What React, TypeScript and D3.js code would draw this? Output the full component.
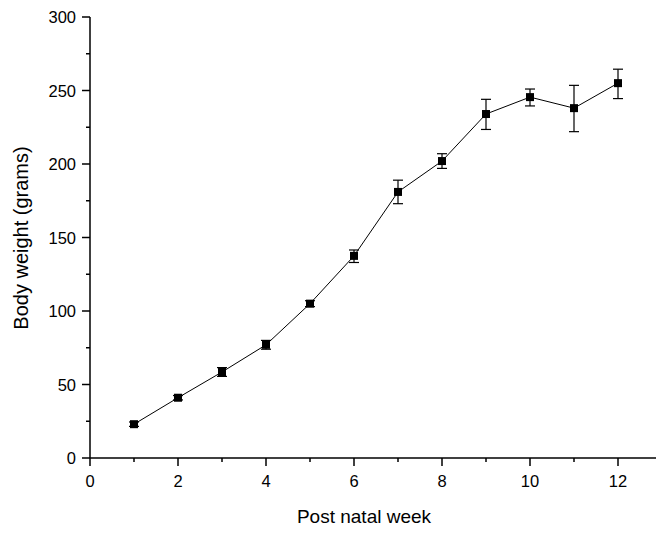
import * as d3 from "d3";

const weeks = [1, 2, 3, 4, 5, 6, 7, 8, 9, 10, 11, 12];
const weight = [23, 41, 58.5, 77, 105, 137.5, 181, 202, 234, 245.5, 238, 255];
const errLow = [21.5, 39.5, 55.5, 74, 103, 133, 173, 197, 223.5, 239.5, 222, 244.5];
const errHigh = [24.5, 42.5, 61.5, 80, 107, 141.5, 189, 207, 244, 251, 253.5, 264.5];
const xTicks = [0, 2, 4, 6, 8, 10, 12];
const xMinor = [1, 3, 5, 7, 9, 11, 13];
const yTicks = [0, 50, 100, 150, 200, 250, 300];
const yMinor = [25, 75, 125, 175, 225, 275];

const font = "Arial, 'Liberation Sans', sans-serif";

export default function App() {
  const width = 656;
  const height = 533;

  const x = d3.scaleLinear().domain([0, 13]).range([90, 662]);
  const y = d3.scaleLinear().domain([0, 300]).range([458, 17]);

  const line = d3
    .line<number>()
    .x((d, i) => x(weeks[i]))
    .y((d) => y(d));

  const box = 8;
  const cap = 5;

  return (
    <svg
      width={width}
      height={height}
      style={{ position: "absolute", left: 0, top: 0, background: "#fff" }}
    >
      {/* axes */}
      <line x1={x(0)} x2={x(13)} y1={y(0)} y2={y(0)} stroke="#000" strokeWidth={1.5} />
      <line x1={x(0)} x2={x(0)} y1={y(0)} y2={y(300)} stroke="#000" strokeWidth={1.5} />

      {xTicks.map((t) => (
        <g key={`xt-${t}`}>
          <line x1={x(t)} x2={x(t)} y1={y(0)} y2={y(0) + 8} stroke="#000" strokeWidth={1.5} />
          <text x={x(t)} y={487} textAnchor="middle" fontSize={16.5} fontFamily={font}>
            {t}
          </text>
        </g>
      ))}
      {xMinor.map((t) => (
        <line key={`xm-${t}`} x1={x(t)} x2={x(t)} y1={y(0)} y2={y(0) + 4} stroke="#000" strokeWidth={1.5} />
      ))}

      {yTicks.map((t) => (
        <g key={`yt-${t}`}>
          <line x1={x(0) - 8} x2={x(0)} y1={y(t)} y2={y(t)} stroke="#000" strokeWidth={1.5} />
          <text x={76} y={y(t) + 6} textAnchor="end" fontSize={16.5} fontFamily={font}>
            {t}
          </text>
        </g>
      ))}
      {yMinor.map((t) => (
        <line key={`ym-${t}`} x1={x(0) - 4} x2={x(0)} y1={y(t)} y2={y(t)} stroke="#000" strokeWidth={1.5} />
      ))}

      {/* axis titles */}
      <text x={364} y={523} textAnchor="middle" fontSize={19} fontFamily={font}>
        Post natal week
      </text>
      <text
        transform={`translate(28,238) rotate(-90)`}
        textAnchor="middle"
        fontSize={20}
        fontFamily={font}
      >
        Body weight (grams)
      </text>

      {/* series */}
      <path d={line(weight) || ""} fill="none" stroke="#000" strokeWidth={1} />

      {weeks.map((w, i) => (
        <g key={`err-${w}`} stroke="#000" strokeWidth={1.2}>
          <line x1={x(w)} x2={x(w)} y1={y(errLow[i])} y2={y(errHigh[i])} />
          <line x1={x(w) - cap} x2={x(w) + cap} y1={y(errLow[i])} y2={y(errLow[i])} />
          <line x1={x(w) - cap} x2={x(w) + cap} y1={y(errHigh[i])} y2={y(errHigh[i])} />
        </g>
      ))}

      {weeks.map((w, i) => (
        <rect
          key={`pt-${w}`}
          x={x(w) - box / 2}
          y={y(weight[i]) - box / 2}
          width={box}
          height={box}
          fill="#000"
        />
      ))}
    </svg>
  );
}
